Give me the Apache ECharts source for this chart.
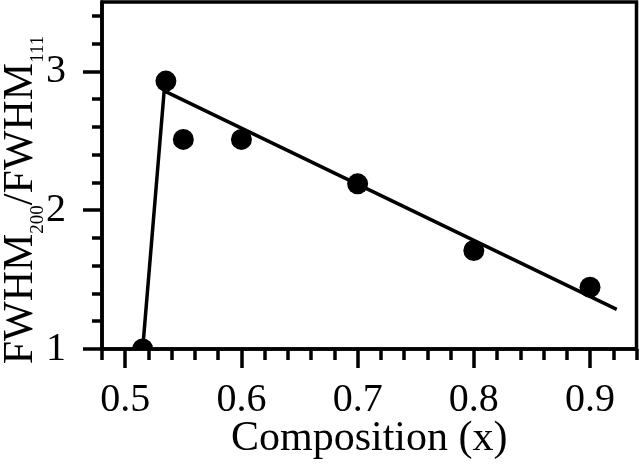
<!DOCTYPE html>
<html>
<head>
<meta charset="utf-8">
<script src="https://cdn.jsdelivr.net/npm/echarts@6/dist/echarts.min.js"></script>
<style>html,body{margin:0;padding:0;background:#fff}#chart{width:640px;height:465px}</style>
</head>
<body>
<div id="chart"></div>
<script>
// Data
const compX = [0.515, 0.535, 0.55, 0.6, 0.7, 0.8, 0.9];
const ratio = [1.0, 2.93, 2.51, 2.51, 2.19, 1.71, 1.445];
const fitX = [0.515, 0.5335, 0.923];
const fitY = [1.0, 2.86, 1.285];
const xMajorTicks = [0.5, 0.6, 0.7, 0.8, 0.9];
const xMinorTicks = [0.48, 0.52, 0.54, 0.56, 0.58, 0.62, 0.64, 0.66, 0.68, 0.72, 0.74, 0.76, 0.78, 0.82, 0.84, 0.86, 0.88, 0.92, 0.94];
const yMajorTicks = [1, 2, 3];
const yMinorTicks = [1.2, 1.4, 1.6, 1.8, 2.2, 2.4, 2.6, 2.8, 3.2, 3.4];
const xTitle = 'Composition (x)';

const FONT = 'Liberation Serif';
const chart = echarts.init(document.getElementById('chart'), null, {renderer: 'canvas'});
const tickStyle = {color: '#000', width: 3.5};
const option = {
  animation: false,
  backgroundColor: '#fff',
  grid: {left: 102, right: 3.5, top: 2, bottom: 114.5, show: true, borderColor: '#000', borderWidth: 3.5},
  xAxis: [
    {type: 'value', min: 0.48, max: 0.94, position: 'bottom',
     axisLine: {onZero: false, lineStyle: {color: '#000', width: 3.5}},
     axisTick: {customValues: xMinorTicks, length: 11, lineStyle: tickStyle},
     axisLabel: {show: false}, splitLine: {show: false},
     name: xTitle, nameLocation: 'middle', nameGap: 69,
     nameTextStyle: {fontFamily: FONT, fontSize: 42, color: '#000'}},
    {type: 'value', min: 0.48, max: 0.94, position: 'bottom',
     axisLine: {show: false, onZero: false},
     axisTick: {customValues: xMajorTicks, length: 19, lineStyle: tickStyle},
     axisLabel: {customValues: xMajorTicks, margin: 31, fontFamily: FONT, fontSize: 40, color: '#000'},
     splitLine: {show: false}}
  ],
  yAxis: [
    {type: 'value', min: 1, max: 3.5, position: 'left',
     axisLine: {onZero: false, lineStyle: {color: '#000', width: 3.5}},
     axisTick: {customValues: yMinorTicks, length: 10, lineStyle: tickStyle},
     axisLabel: {show: false}, splitLine: {show: false}},
    {type: 'value', min: 1, max: 3.5, position: 'left',
     axisLine: {show: false, onZero: false},
     axisTick: {customValues: yMajorTicks, length: 19, lineStyle: tickStyle},
     axisLabel: {customValues: yMajorTicks, margin: 36, fontFamily: FONT, fontSize: 40, color: '#000'},
     splitLine: {show: false}}
  ],
  graphic: [{
    type: 'text', x: 21, y: 200, rotation: Math.PI / 2,
    style: {
      text: '{m|FWHM}{s|200}{m|/FWHM}{s|111}',
      align: 'center', verticalAlign: 'middle',
      fill: '#000',
      rich: {
        m: {fontFamily: FONT, fontSize: 42, lineHeight: 42, verticalAlign: 'middle', fill: '#000'},
        s: {fontFamily: FONT, fontSize: 19, lineHeight: 54, verticalAlign: 'bottom', fill: '#000'}
      }
    }
  }],
  series: [
    {type: 'custom', xAxisIndex: 0, yAxisIndex: 0, clip: true,
     data: compX.map((x, i) => [x, ratio[i]]),
     encode: {x: 0, y: 1},
     renderItem: function (params, api) {
       const p = api.coord([api.value(0), api.value(1)]);
       return {type: 'circle', shape: {cx: p[0], cy: p[1], r: 10.5}, style: {fill: '#000'}};
     }},
    {type: 'line', xAxisIndex: 0, yAxisIndex: 0, clip: true,
     data: fitX.map((x, i) => [x, fitY[i]]),
     showSymbol: false, symbol: 'none', lineStyle: {color: '#000', width: 3.5}}
  ]
};
chart.setOption(option);
</script>
</body>
</html>
